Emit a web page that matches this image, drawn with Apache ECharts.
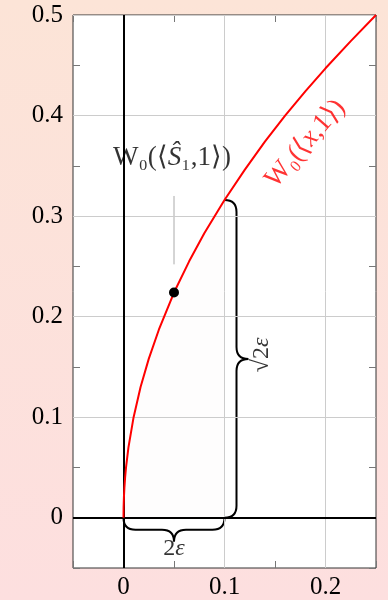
<!DOCTYPE html>
<html>
<head>
<meta charset="utf-8">
<script src="https://cdn.jsdelivr.net/npm/echarts@6/dist/echarts.min.js"></script>
<style>
html, body { margin: 0; padding: 0; }
#chart { width: 388px; height: 600px; }
</style>
</head>
<body>
<div id="chart"></div>
<script>
// tick labels / grid positions
var xMajor = [0, 0.1, 0.2];
var yMajor = [0, 0.1, 0.2, 0.3, 0.4, 0.5];

// red curve W0(<x,1>)
var curveX = [0, 0.0001, 0.0004, 0.0009, 0.0016, 0.0025, 0.0049, 0.01, 0.0169, 0.025, 0.035, 0.05, 0.065, 0.08, 0.1, 0.12, 0.14, 0.16, 0.18, 0.2, 0.225, 0.25];
var curveY = [0, 0.01, 0.02, 0.03, 0.04, 0.05, 0.07, 0.1, 0.13, 0.158, 0.187, 0.224, 0.255, 0.283, 0.316, 0.346, 0.374, 0.4, 0.424, 0.447, 0.474, 0.5];
var shadeEndX = 0.1;

// marked point and its pointer
var dotX = [0.05];
var dotY = [0.224];
var pointerX = [0.05, 0.05];
var pointerY = [0.252, 0.32];

// braces: [x1, y1, x2, y2]
var braces = [[0.1, 0.316, 0.1, 0], [0.1, 0, 0, 0]];

// text annotations
var labelPos = [[0.048, 0.358], [0.18, 0.372], [0.137, 0.162], [0.05, -0.031]];
var labelText = [
  '{b|W₀(⟨}{bi|Ŝ}{b|₁,1⟩)}',
  '{r|W₀(⟨}{ri|x}{r|,1⟩)}',
  '{n|√2}{i|ε}',
  '{n|2}{i|ε}'
];
var labelRotate = [0, 49, 90, 0];

var SERIF = 'Liberation Serif';

var curve = curveX.map(function (x, i) { return [x, curveY[i]]; });
var shade = curve.filter(function (p) { return p[0] <= shadeEndX + 1e-9; });

var rich = {
  n: { fontFamily: SERIF, fontSize: 24, color: '#000' },
  i: { fontFamily: SERIF, fontSize: 24, color: '#000', fontStyle: 'italic' },
  b: { fontFamily: SERIF, fontSize: 27, color: '#000' },
  bi: { fontFamily: SERIF, fontSize: 27, color: '#000', fontStyle: 'italic' },
  r: { fontFamily: SERIF, fontSize: 27, color: '#ff0000' },
  ri: { fontFamily: SERIF, fontSize: 27, color: '#ff0000', fontStyle: 'italic' }
};

function bracePath(api) {
  var p1 = api.coord([api.value(0), api.value(1)]);
  var p2 = api.coord([api.value(2), api.value(3)]);
  var dx = p2[0] - p1[0], dy = p2[1] - p1[1];
  var len = Math.sqrt(dx * dx + dy * dy);
  var tx = dx / len, ty = dy / len;
  var nx = ty, ny = -tx, q = 12;
  var mx = (p1[0] + p2[0]) / 2, my = (p1[1] + p2[1]) / 2;
  function P(x, y) { return x.toFixed(1) + ' ' + y.toFixed(1); }
  return 'M' + P(p1[0], p1[1]) +
    ' Q' + P(p1[0] + nx * q, p1[1] + ny * q) + ' ' + P(p1[0] + nx * q + tx * q, p1[1] + ny * q + ty * q) +
    ' L' + P(mx + nx * q - tx * q, my + ny * q - ty * q) +
    ' Q' + P(mx + nx * q, my + ny * q) + ' ' + P(mx + nx * 2 * q, my + ny * 2 * q) +
    ' Q' + P(mx + nx * q, my + ny * q) + ' ' + P(mx + nx * q + tx * q, my + ny * q + ty * q) +
    ' L' + P(p2[0] + nx * q - tx * q, p2[1] + ny * q - ty * q) +
    ' Q' + P(p2[0] + nx * q, p2[1] + ny * q) + ' ' + P(p2[0], p2[1]);
}

function xAxisOpt(pos, labels) {
  return {
    type: 'value', position: pos, min: -0.05, max: 0.25, interval: 0.05,
    axisLine: { show: false, onZero: false },
    axisTick: { show: true, inside: true, length: 7, lineStyle: { color: '#777' } },
    axisLabel: {
      show: labels, customValues: xMajor, margin: 7,
      fontFamily: SERIF, fontSize: 25, color: '#000',
      formatter: function (v) { return String(+v.toFixed(2)); }
    },
    splitLine: { show: false }
  };
}
function yAxisOpt(pos, labels) {
  return {
    type: 'value', position: pos, min: -0.05, max: 0.5, interval: 0.05,
    axisLine: { show: false, onZero: false },
    axisTick: { show: true, inside: true, length: 7, lineStyle: { color: '#777' } },
    axisLabel: {
      show: labels, customValues: yMajor, margin: 10,
      fontFamily: SERIF, fontSize: 25, color: '#000',
      formatter: function (v) { return String(+v.toFixed(2)); }
    },
    splitLine: { show: false }
  };
}

var chart = echarts.init(document.getElementById('chart'));
chart.setOption({
  animation: false,
  backgroundColor: {
    type: 'linear', x: 0, y: 0, x2: 0, y2: 1,
    colorStops: [{ offset: 0, color: '#fce4d7' }, { offset: 1, color: '#fddfdf' }]
  },
  grid: {
    left: 73, right: 12, top: 15, bottom: 31,
    show: true, backgroundColor: '#fff', borderColor: '#333', borderWidth: 1
  },
  xAxis: [xAxisOpt('bottom', true), xAxisOpt('top', false)],
  yAxis: [yAxisOpt('left', true), yAxisOpt('right', false)],
  series: [
    {
      // grid lines
      type: 'line', data: [], z: 1, silent: true,
      markLine: {
        silent: true, symbol: ['none', 'none'], label: { show: false },
        lineStyle: { color: '#cccccc', width: 1, type: 'solid' },
        data: xMajor.map(function (v) { return { xAxis: v }; })
          .concat(yMajor.map(function (v) { return { yAxis: v }; }))
      }
    },
    {
      // shaded region under the curve
      type: 'line', data: shade, z: 2, silent: true,
      symbol: 'none', lineStyle: { width: 0 },
      areaStyle: { color: 'rgba(235,190,190,0.04)' }
    },
    {
      // x = 0 and y = 0 axes
      type: 'line', data: [], z: 3, silent: true,
      markLine: {
        silent: true, symbol: ['none', 'none'], label: { show: false },
        lineStyle: { color: '#000', width: 2, type: 'solid' },
        data: [{ xAxis: 0 }, { yAxis: 0 }]
      }
    },
    {
      type: 'line', data: pointerX.map(function (x, i) { return [x, pointerY[i]]; }),
      z: 3, symbol: 'none', silent: true,
      lineStyle: { color: '#aaaaaa', width: 1 }
    },
    {
      type: 'custom', z: 4, silent: true,
      data: braces,
      encode: { x: [0, 2], y: [1, 3] },
      renderItem: function (params, api) {
        return {
          type: 'path',
          shape: { pathData: bracePath(api) },
          style: { fill: null, stroke: '#000', lineWidth: 2 }
        };
      }
    },
    {
      type: 'line', data: curve, z: 5, symbol: 'none', silent: true,
      lineStyle: { color: '#ff0000', width: 2 }
    },
    {
      type: 'scatter', z: 6, silent: true,
      data: dotX.map(function (x, i) { return [x, dotY[i]]; }),
      symbolSize: 10, itemStyle: { color: '#000', opacity: 1 }
    },
    {
      type: 'scatter', z: 7, silent: true, symbolSize: 0,
      data: labelPos.map(function (p, i) {
        return {
          value: p,
          label: {
            show: true, position: 'inside', rotate: labelRotate[i],
            formatter: labelText[i], rich: rich
          }
        };
      })
    }
  ]
});
</script>
</body>
</html>
